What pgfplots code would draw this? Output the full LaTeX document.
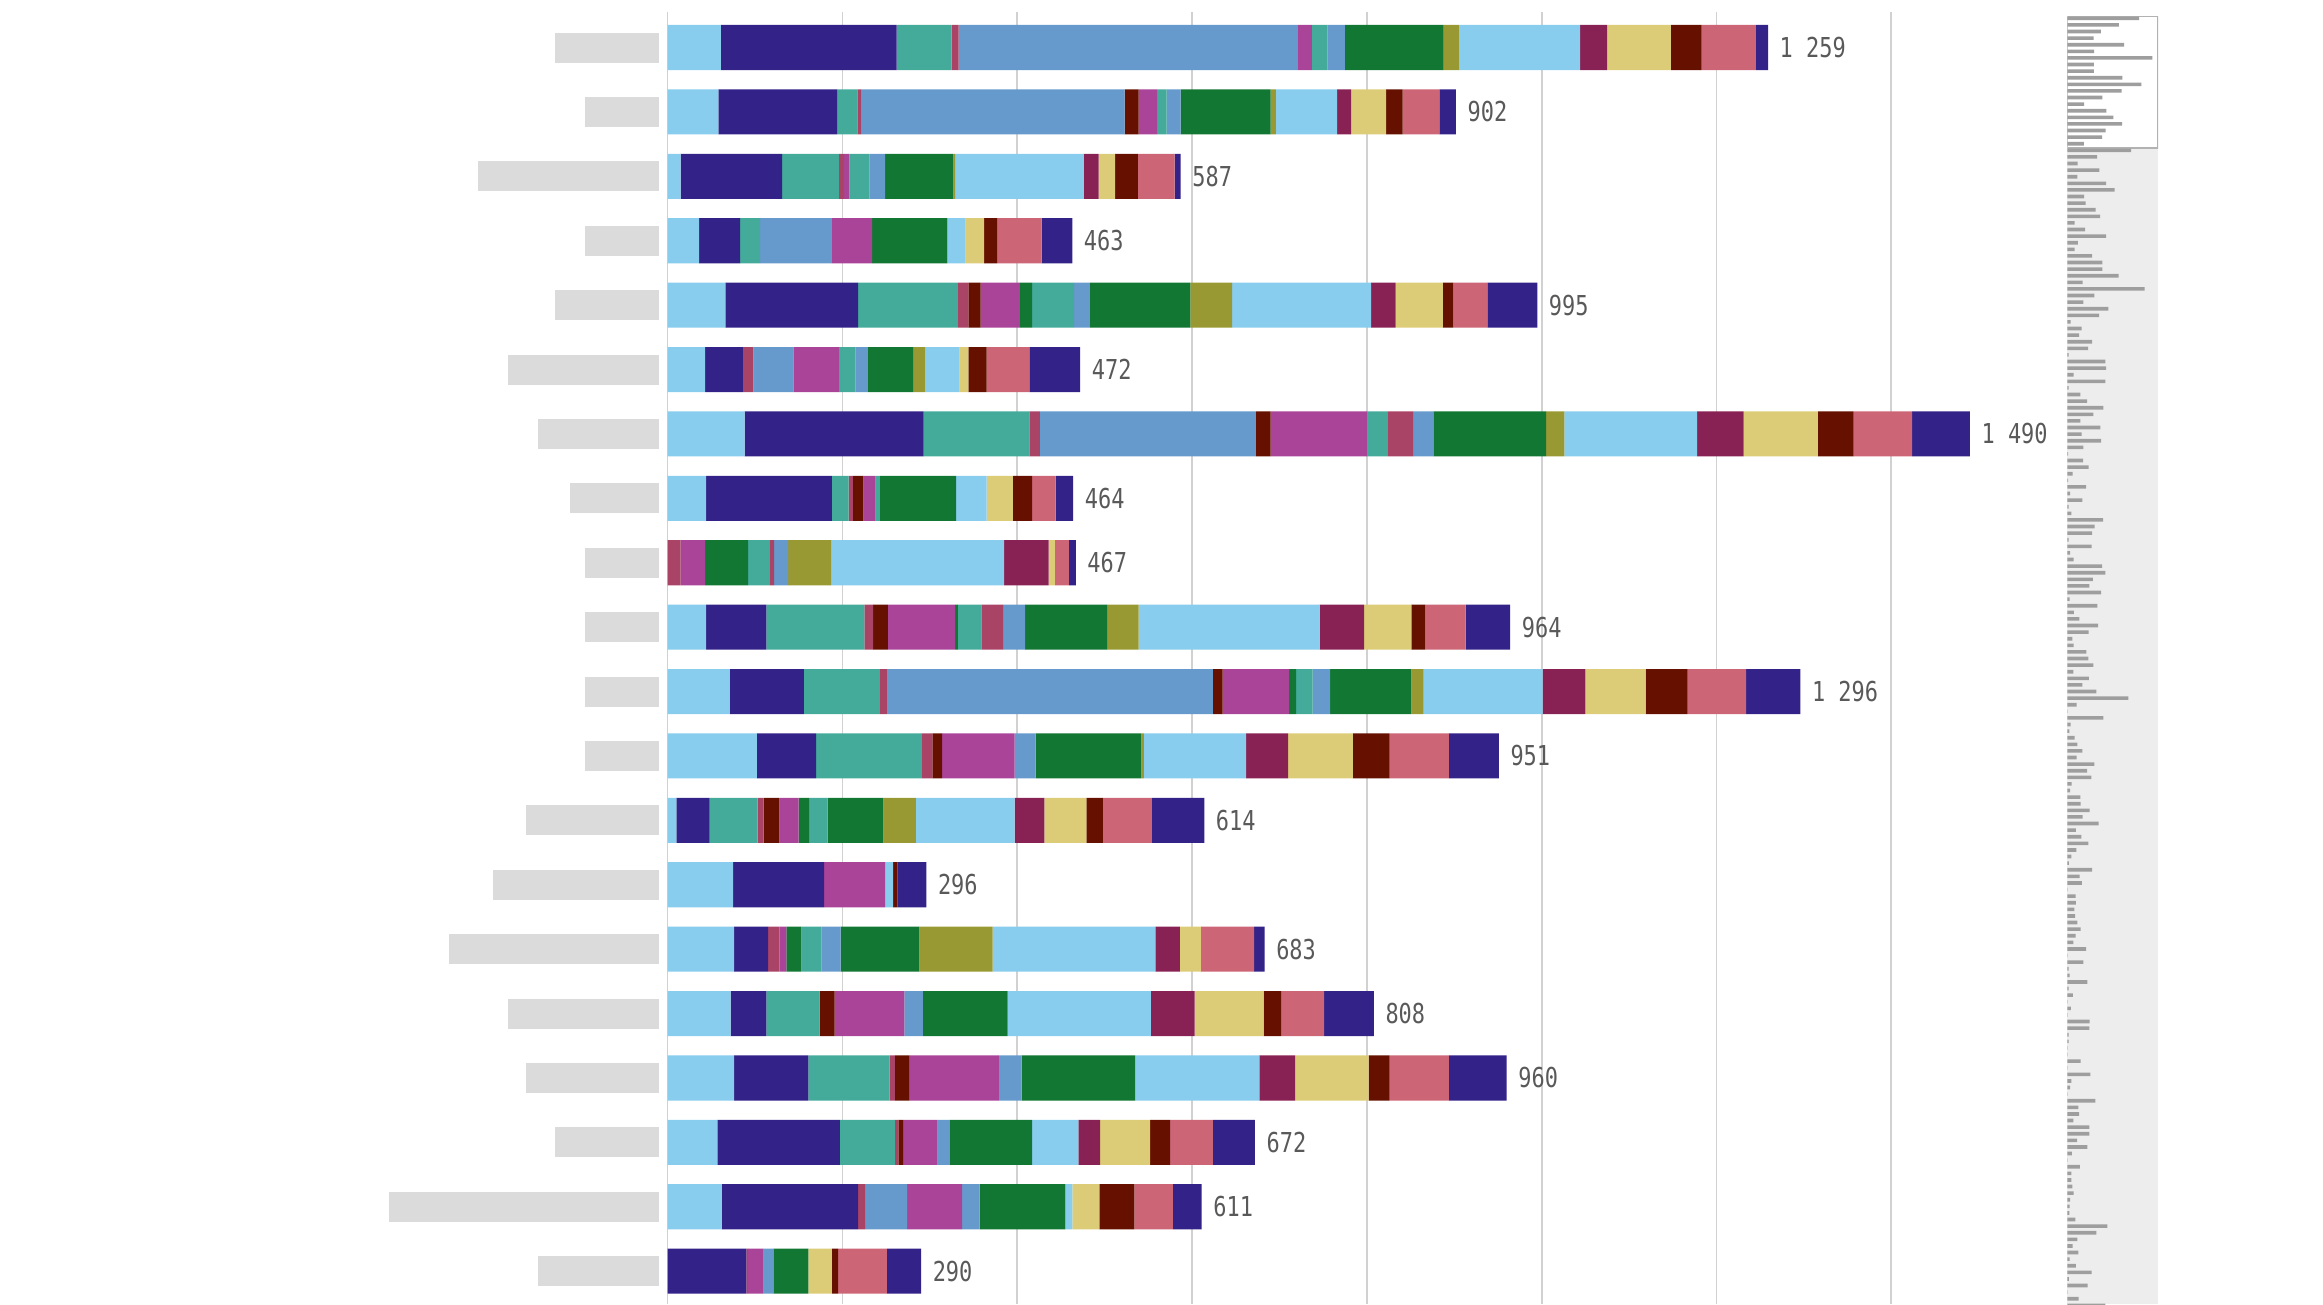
\documentclass[border=0pt]{standalone}
\usepackage{pgfplots}
\pgfplotsset{compat=1.18}
\usepackage{pgfplotstable}
\usepackage{fontspec}
\newfontfamily\numfont[FakeStretch=0.8]{DejaVu Sans Mono}
\definecolor{cLB}{HTML}{88CCEE}
\definecolor{cPU}{HTML}{332288}
\definecolor{cTE}{HTML}{44AA99}
\definecolor{cPK}{HTML}{AA4466}
\definecolor{cBL}{HTML}{6699CC}
\definecolor{cBR}{HTML}{661100}
\definecolor{cMA}{HTML}{AA4499}
\definecolor{cGR}{HTML}{117733}
\definecolor{cOL}{HTML}{999933}
\definecolor{cWI}{HTML}{882255}
\definecolor{cSA}{HTML}{DDCC77}
\definecolor{cRO}{HTML}{CC6677}
\newcommand{\lbl}[1]{\textcolor{black!14}{\rule{#1mm}{3mm}}}

\pgfplotstableread{
y s1 s2 s3 s4 s5 s6 s7 s8 s9 s10 s11 s12 s13 s14 s15 s16 s17 s18 s19 total
1 61 201 63 8 388 0 16 0 18 0 20 113 18 138 31 73 35 62 14 1259
2 58 136 23 5 301 16 21 0 11 0 16 103 6 70 16 40 19 42 19 902
3 15 116 65 6 0 0 6 0 23 0 18 78 2 147 17 19 26 42 7 587
4 36 47 23 0 82 0 46 0 0 0 0 86 0 21 0 21 15 51 35 463
5 66 152 114 12 0 14 45 14 48 0 18 115 48 159 28 54 12 39 57 995
6 43 43 0 12 46 0 52 0 19 0 14 52 14 39 0 10 21 49 58 472
7 88 205 121 12 247 17 110 0 24 29 23 129 21 152 53 85 41 67 66 1490
8 44 144 19 5 0 12 14 0 5 0 0 87 0 35 0 30 22 27 20 464
9 0 0 0 15 0 0 28 49 25 5 16 0 49 198 51 7 0 16 8 467
10 44 69 112 10 0 17 77 3 27 25 25 94 36 207 51 54 16 46 51 964
11 71 85 87 8 373 11 76 8 19 0 20 93 14 136 49 69 48 67 62 1296
12 102 68 121 12 0 11 83 0 0 0 24 121 3 117 48 74 42 68 57 951
13 10 38 55 7 0 18 22 12 21 0 0 64 37 113 34 48 19 56 60 614
14 75 104 0 0 0 0 70 0 0 0 0 0 0 9 0 0 5 0 33 296
15 76 39 0 13 0 0 8 17 23 0 22 90 84 186 28 24 0 61 12 683
16 72 41 61 0 0 17 80 0 0 0 21 97 0 164 50 79 20 49 57 808
17 76 85 93 6 0 17 102 0 0 0 26 130 0 142 41 84 24 68 66 960
18 57 140 63 4 0 6 39 0 0 0 14 94 0 53 25 57 23 49 48 672
19 62 156 0 8 48 0 63 0 0 0 20 98 0 8 0 31 40 44 33 611
20 0 90 0 2 0 0 18 0 0 0 11 40 0 0 0 27 7 56 39 290
}\maindata

\pgfplotstableread{
r v
1 1259
2 902
3 587
4 463
5 995
6 472
7 1490
8 464
9 467
10 964
11 1296
12 951
13 614
14 296
15 683
16 808
17 960
18 672
19 611
20 290
21 1117
22 521
23 181
24 562
25 176
26 679
27 831
28 293
29 322
30 497
31 573
32 129
33 310
34 679
35 187
36 129
37 433
38 614
39 614
40 901
41 269
42 1357
43 474
44 281
45 720
46 556
47 59
48 252
49 205
50 433
51 363
52 23
53 667
54 679
55 111
56 667
57 23
58 228
59 345
60 632
61 456
62 228
63 579
64 252
65 591
66 281
67 12
68 275
69 374
70 94
71 12
72 328
73 47
74 263
75 23
76 70
77 626
78 480
79 433
80 23
81 427
82 47
83 111
84 608
85 667
86 450
87 386
88 591
89 41
90 527
91 117
92 211
93 538
94 374
95 88
96 111
97 333
98 369
99 456
100 105
101 380
102 263
103 509
104 1071
105 164
106 6
107 632
108 59
109 35
110 129
111 176
112 263
113 164
114 474
115 345
116 421
117 76
118 47
119 228
120 234
121 392
122 269
123 550
124 152
125 246
126 369
127 158
128 70
129 29
130 433
131 216
132 257
133 6
134 146
135 152
136 123
137 135
138 176
139 234
140 146
141 105
142 328
143 6
144 281
145 23
146 41
147 351
148 23
149 99
150 6
151 64
152 6
153 392
154 386
155 23
156 23
157 6
158 6
159 234
160 6
161 404
162 70
163 47
164 6
165 491
166 193
167 205
168 105
169 386
170 386
171 170
172 351
173 82
174 6
175 222
176 70
177 70
178 88
179 111
180 47
181 41
182 35
183 140
184 702
185 509
186 176
187 94
188 193
189 41
190 152
191 427
192 29
193 357
194 6
195 199
196 667
}\minidata

\begin{document}
\begin{tikzpicture}
\path[use as bounding box] (0,0) rectangle (232.3mm,130.4mm);
\begin{axis}[
  at={(66.76mm,0mm)}, anchor=south west,
  scale only axis, width=138.97mm, height=129.19mm,
  xbar stacked, bar width=0.7,
  xmin=0, xmax=1590, ymin=0.45, ymax=20.51, y dir=reverse,
  xtick={200,400,...,1400}, xticklabels={},
  extra x ticks={0}, extra x tick labels={},
  extra x tick style={grid style={black!32, line width=0.6pt}},
  xmajorgrids, major grid style={black!18, line width=0.5pt},
  ytick={1,...,20},
  yticklabels={\lbl{10.4},\lbl{7.4},\lbl{18.1},\lbl{7.4},\lbl{10.4},\lbl{15.1},\lbl{12.1},\lbl{8.9},\lbl{7.4},\lbl{7.4},\lbl{7.4},\lbl{7.4},\lbl{13.3},\lbl{16.6},\lbl{21.0},\lbl{15.1},\lbl{13.3},\lbl{10.4},\lbl{27.0},\lbl{12.1}},
  major tick length=0pt,
  axis line style={draw=none},
  yticklabel style={inner sep=0pt, xshift=-0.76mm},
  every axis plot/.append style={draw=none},
]
\addplot[fill=cLB] table[x=s1,y=y]{\maindata};
\addplot[fill=cPU] table[x=s2,y=y]{\maindata};
\addplot[fill=cTE] table[x=s3,y=y]{\maindata};
\addplot[fill=cPK] table[x=s4,y=y]{\maindata};
\addplot[fill=cBL] table[x=s5,y=y]{\maindata};
\addplot[fill=cBR] table[x=s6,y=y]{\maindata};
\addplot[fill=cMA] table[x=s7,y=y]{\maindata};
\addplot[fill=cGR] table[x=s8,y=y]{\maindata};
\addplot[fill=cTE] table[x=s9,y=y]{\maindata};
\addplot[fill=cPK] table[x=s10,y=y]{\maindata};
\addplot[fill=cBL] table[x=s11,y=y]{\maindata};
\addplot[fill=cGR] table[x=s12,y=y]{\maindata};
\addplot[fill=cOL] table[x=s13,y=y]{\maindata};
\addplot[fill=cLB] table[x=s14,y=y]{\maindata};
\addplot[fill=cWI] table[x=s15,y=y]{\maindata};
\addplot[fill=cSA] table[x=s16,y=y]{\maindata};
\addplot[fill=cBR] table[x=s17,y=y]{\maindata};
\addplot[fill=cRO] table[x=s18,y=y]{\maindata};
\addplot[fill=cPU] table[x=s19,y=y]{\maindata};
\end{axis}

\begin{axis}[
  at={(66.76mm,0mm)}, anchor=south west,
  scale only axis, width=138.97mm, height=129.19mm,
  xmin=0, xmax=1590, ymin=0.45, ymax=20.51, y dir=reverse,
  axis lines=none, ticks=none, clip=false,
]
\addplot[only marks, mark=none, point meta=\thisrow{total},
  nodes near coords={\numfont\fontsize{7.8pt}{9pt}\selectfont\pgfmathprintnumber[fixed,precision=0,1000 sep={\ },assume math mode=true]{\pgfplotspointmeta}},
  every node near coord/.append style={anchor=west, inner sep=0pt, xshift=1.1mm, text=black!65}
  ] table[x=total,y=y]{\maindata};
\end{axis}

\begin{axis}[
  at={(206.73mm,0mm)}, anchor=south west,
  scale only axis, width=9.07mm, height=128.8mm,
  xbar, bar width=0.55,
  xmin=0, xmax=1590, ymin=0.65, ymax=195.8, y dir=reverse,
  axis lines=none, ticks=none,
  axis background/.style={fill=black!7},
]
\filldraw[fill=white, draw=black!30, line width=0.4pt] (axis cs:0,0.65) rectangle (axis cs:1590,20.65);
\addplot[fill=black!38, draw=none] table[x=v, y=r]{\minidata};
\end{axis}
\end{tikzpicture}
\end{document}
